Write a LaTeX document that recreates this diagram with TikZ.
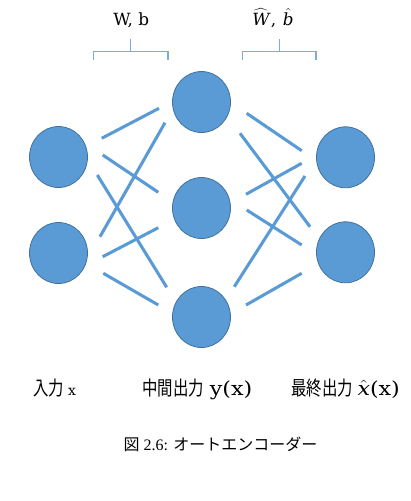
\documentclass[tikz,border=0pt]{standalone}
\usepackage{fontspec}
\usepackage{graphicx}
\setmainfont{Liberation Serif}
\newfontfamily\jp{Noto Sans CJK JP}
\newfontfamily\dvs{DejaVu Serif}
\usetikzlibrary{calc,shapes.geometric}
\definecolor{nodefill}{HTML}{5B9BD5}
\definecolor{nodeedge}{HTML}{41719C}
\definecolor{linkblue}{HTML}{5B9BD5}
\definecolor{bracecol}{HTML}{7AADDD}
\newlength{\pxu}
\setlength{\pxu}{0.75pt}
\newcommand{\jpl}[1]{\scalebox{0.78}[1]{\jp\fontsize{14.8}{17}\selectfont #1}}
\newcommand{\latw}[1]{\scalebox{1.15}[1]{#1}}
\tikzset{
  unit/.style={ellipse, fill=nodefill, draw=nodeedge, line width=0.6pt,
    minimum width=58\pxu, minimum height=61\pxu, inner sep=0pt},
  link/.style={draw=linkblue, line width=2.3pt},
  bracket/.style={draw=bracecol, line width=1pt},
  lbl/.style={anchor=base west, inner sep=0pt, font=\dvs\fontsize{14.5}{17}\selectfont},
  toplbl/.style={anchor=base west, inner sep=0pt, font=\dvs\fontsize{12.6}{15}\selectfont},
  captext/.style={anchor=base, inner sep=0pt, font=\fontsize{12}{14}\selectfont},
}
\begin{document}
\begin{tikzpicture}[x=0.75pt,y=-0.75pt]
\useasboundingbox (0,0) rectangle (411,501);
% units
\node[unit] (l1) at (58.5,157) {};
\node[unit] (l2) at (58.5,253) {};
\node[unit] (m1) at (201.5,102) {};
\node[unit] (m2) at (201.5,208) {};
\node[unit] (m3) at (201.5,317) {};
\node[unit] (r1) at (345.5,157.3) {};
\node[unit] (r2) at (345.5,252.3) {};
% links encoder
\draw[link] ($(l1)+(43.2,-18.7)$) -- ($(m1)+(-42.5,6.3)$);
\draw[link] ($(l1)+(44.2,-2)$) -- ($(m2)+(-43.2,-15.7)$);
\draw[link] ($(l1)+(38.8,18)$) -- ($(m3)+(-34.8,-29.7)$);
\draw[link] ($(l2)+(41.5,-16.3)$) -- ($(m1)+(-36.5,20.7)$);
\draw[link] ($(l2)+(44.2,3.7)$) -- ($(m2)+(-43.2,19.7)$);
\draw[link] ($(l2)+(44.8,20.3)$) -- ($(m3)+(-43.2,-12)$);
% links decoder
\draw[link] ($(m1)+(45.2,11.3)$) -- ($(r1)+(-43.8,-6.6)$);
\draw[link] ($(m1)+(38.5,31.3)$) -- ($(r2)+(-35.5,-25.6)$);
\draw[link] ($(m2)+(44.5,-13.7)$) -- ($(r1)+(-43.8,6)$);
\draw[link] ($(m2)+(45.2,2)$) -- ($(r2)+(-43.8,-7.3)$);
\draw[link] ($(m3)+(32.8,-30.3)$) -- ($(r1)+(-40.5,18.7)$);
\draw[link] ($(m3)+(44.5,-12)$) -- ($(r2)+(-43.8,21)$);
% brackets
\draw[bracket] (93.3,60) -- (93.3,51.7) -- (168,51.7) -- (168,60);
\draw[bracket] (130.8,51.7) -- (130.8,39.3);
\draw[bracket] (242.3,60) -- (242.3,51.7) -- (316,51.7) -- (316,60);
\draw[bracket] (279.3,51.7) -- (279.3,39.3);
% labels
\node[toplbl] (wb) at (113,25.5) {W, b};
\node[toplbl] (wbhat) at (252,25.5) {$\widehat{\hbox{\itshape W\kern1pt}}$,\hspace{5pt}$\hat{\hbox{\itshape b}}$};
\node[lbl] (tin) at (33,395) {\jpl{入力}\hspace{3pt}{\fontsize{10.5}{12}\selectfont x}};
\node[lbl] (tmid) at (142,395) {\jpl{中間出力}\hspace{4.5pt}\latw{y(x)}};
\node[lbl] (tout) at (291,395) {\jpl{最終出力}\hspace{3.5pt}\latw{$\hat{\hbox{\itshape x}}$(x)}};
\node[captext] (caption) at (220.5,450) {{\jp 図} 2.6: {\jp オートエンコーダー}};
\end{tikzpicture}
\end{document}
